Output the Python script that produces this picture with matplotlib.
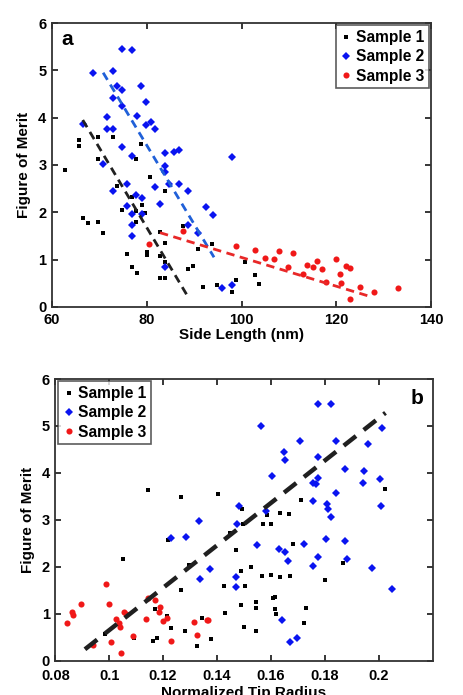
import numpy as np
import matplotlib
matplotlib.use('Agg')
import matplotlib.pyplot as plt

plt.rcParams['font.family'] = ['Liberation Sans', 'DejaVu Sans']
plt.rcParams['font.weight'] = 'bold'

# ---- panel a: figure of merit vs side length (nm) ----
a_s1_x = [62.7, 65.8, 65.8, 69.8, 72.8, 78.7, 77.7, 69.8, 80.7, 73.8, 74.7, 66.6, 67.7, 69.8, 70.8,
          83.8, 76.8, 78.9, 77.7, 79.6, 77.7, 82.8, 87.7, 83.8, 75.8, 80.0, 80.0, 82.8, 83.8, 76.8,
          77.9, 82.8, 83.8, 88.8, 89.8, 90.9, 93.7, 91.8, 94.8, 97.9, 98.8, 100.7, 102.8, 103.7]
a_s1_y = [2.90, 3.53, 3.40, 3.59, 3.60, 3.45, 3.12, 3.12, 2.74, 2.56, 2.05, 1.88, 1.78, 1.80, 1.57,
          2.46, 2.33, 2.16, 2.03, 1.98, 1.80, 1.59, 1.71, 1.35, 1.12, 1.17, 1.10, 1.08, 0.96, 0.85,
          0.71, 0.62, 0.62, 0.80, 0.87, 1.23, 1.33, 0.43, 0.46, 0.31, 0.56, 0.94, 0.68, 0.48]

a_s2_x = [74.7, 76.8, 68.7, 72.8, 73.8, 74.8, 78.7, 72.8, 79.8, 74.8, 71.7, 77.9, 79.8, 80.8, 81.7,
          71.7, 72.8, 66.6, 74.7, 76.8, 70.7, 83.8, 85.8, 86.9, 97.9, 83.8, 83.8, 72.8, 75.8, 81.7,
          84.7, 86.9, 88.8, 75.8, 77.7, 78.9, 82.8, 76.8, 78.9, 76.8, 76.8, 92.6, 93.9, 88.8, 90.9,
          83.8, 95.8, 97.9]
a_s2_y = [5.45, 5.42, 4.94, 4.98, 4.66, 4.59, 4.66, 4.41, 4.33, 4.25, 4.02, 4.04, 3.85, 3.90, 3.76,
          3.76, 3.76, 3.87, 3.38, 3.20, 3.02, 3.26, 3.28, 3.31, 3.16, 2.97, 2.86, 2.46, 2.60, 2.53,
          2.60, 2.60, 2.44, 2.14, 2.37, 2.30, 2.18, 1.96, 1.96, 1.73, 1.50, 2.12, 1.94, 1.73, 1.56,
          0.85, 0.40, 0.47]

a_s3_x = [80.5, 87.7, 98.8, 102.8, 107.9, 110.9, 104.9, 106.8, 109.8, 112.9, 113.9, 115.0, 115.9,
          117.0, 117.8, 119.9, 120.8, 120.9, 122.0, 123.0, 122.9, 125.0, 127.9, 133.1]
a_s3_y = [1.33, 1.61, 1.28, 1.21, 1.19, 1.13, 1.03, 1.01, 0.84, 0.69, 0.89, 0.85, 0.97,
          0.80, 0.53, 1.01, 0.69, 0.50, 0.87, 0.83, 0.16, 0.42, 0.32, 0.40]

a_fit1 = ([66.5, 88.5], [3.95, 0.25])
a_fit2 = ([70.8, 94.2], [4.95, 1.05])
a_fit3 = ([82.8, 127.2], [1.57, 0.22])

# ---- panel b: figure of merit vs normalized tip radius ----
b_s1_x = [0.1144, 0.1268, 0.1404, 0.1493, 0.2022, 0.1713, 0.1587, 0.1635, 0.1667, 0.1570, 0.1601,
          0.1496, 0.1469, 0.1681, 0.1867, 0.1800, 0.1525, 0.1490, 0.1568, 0.1601, 0.1632, 0.1669,
          0.1503, 0.1425, 0.1607, 0.1614, 0.1488, 0.1546, 0.1543, 0.1616, 0.1620, 0.1731, 0.1431,
          0.1500, 0.1543, 0.1722, 0.1377, 0.1346, 0.1050, 0.1219, 0.1447, 0.1296, 0.1268, 0.1169,
          0.1213, 0.1229, 0.1283, 0.1327, 0.1161, 0.1179, 0.1092, 0.0984]
b_s1_y = [3.63, 3.48, 3.55, 3.22, 3.66, 3.43, 3.11, 3.15, 3.13, 2.91, 2.90,
          2.90, 2.36, 2.48, 2.08, 1.72, 2.00, 1.90, 1.81, 1.83, 1.79, 1.81,
          1.59, 1.58, 1.33, 1.36, 1.19, 1.24, 1.13, 1.09, 0.99, 1.13, 1.02,
          0.72, 0.62, 0.79, 0.45, 0.90, 2.17, 2.56, 2.72, 2.04, 1.51, 1.10,
          0.95, 0.69, 0.62, 0.32, 0.42, 0.49, 0.47, 0.57]

b_s2_x = [0.1481, 0.1332, 0.1474, 0.1774, 0.1824, 0.1564, 0.2011, 0.1706, 0.1842, 0.1959, 0.1648,
          0.1651, 0.1774, 0.1873, 0.1944, 0.1605, 0.1774, 0.1756, 0.1768, 0.1943, 0.2003, 0.1842,
          0.1756, 0.1809, 0.1811, 0.1824, 0.2009, 0.1580, 0.1548, 0.1630, 0.1654, 0.1663, 0.1722,
          0.1803, 0.1874, 0.1774, 0.1756, 0.1883, 0.1975, 0.2050, 0.1373, 0.1469, 0.1472, 0.1640,
          0.1669, 0.1698, 0.1231, 0.1284, 0.1336]
b_s2_y = [3.29, 2.98, 2.90, 5.47, 5.46, 5.00, 4.96, 4.68, 4.69, 4.62, 4.45,
          4.28, 4.34, 4.09, 4.05, 3.93, 3.89, 3.79, 3.77, 3.79, 3.88, 3.57,
          3.39, 3.34, 3.22, 3.06, 3.30, 3.18, 2.47, 2.38, 2.31, 2.13, 2.48,
          2.60, 2.55, 2.20, 2.02, 2.16, 1.97, 1.52, 1.96, 1.77, 1.56, 0.86,
          0.40, 0.49, 2.61, 2.63, 1.74]

b_s3_x = [0.0844, 0.0861, 0.0867, 0.0895, 0.0988, 0.0999, 0.1024, 0.1037, 0.1040, 0.1056, 0.1061,
          0.1043, 0.1005, 0.1089, 0.0941, 0.1136, 0.1144, 0.1169, 0.1188, 0.1184, 0.1198, 0.1215,
          0.1231, 0.1314, 0.1327, 0.1361, 0.1367]
b_s3_y = [0.81, 1.04, 0.97, 1.20, 1.63, 1.20, 0.89, 0.79, 0.71, 1.04, 0.99,
          0.17, 0.40, 0.52, 0.33, 0.88, 1.34, 1.29, 1.15, 1.04, 0.85, 0.90,
          0.42, 0.83, 0.54, 0.87, 0.87]

b_fit = ([0.091, 0.2025], [0.24, 5.28])

legend_labels = ['Sample 1', 'Sample 2', 'Sample 3']

BLUE = '#0a14f0'
RED = '#f01818'


def style_axes(ax, xpad=4):
    for sp in ax.spines.values():
        sp.set_linewidth(1.3)
        sp.set_color('#333333')
    ax.tick_params(direction='in', top=True, right=True, length=4, width=1.1,
                   labelsize=10.5)
    ax.tick_params(axis='x', pad=xpad)
    ax.tick_params(axis='y', pad=4)
    for lab in ax.get_xticklabels() + ax.get_yticklabels():
        lab.set_fontweight('bold')


def scatter_three(ax, s1, s2, s3):
    ax.plot(s1[0], s1[1], 's', color='black', ms=3.4, mew=0, ls='none', label=legend_labels[0])
    ax.plot(s2[0], s2[1], 'D', color=BLUE, ms=3.9, mew=0, ls='none', label=legend_labels[1])
    ax.plot(s3[0], s3[1], 'o', color=RED, ms=4.4, mew=0, ls='none', label=legend_labels[2])


def make_legend(ax, loc):
    leg = ax.legend(loc=loc, handletextpad=0.2, handlelength=0.8,
                    borderpad=0.3, labelspacing=0.28, fancybox=False, borderaxespad=0.15,
                    prop={'weight': 'bold', 'size': 11.2})
    leg.get_frame().set_edgecolor('#333333')
    leg.get_frame().set_linewidth(1.2)
    return leg


fig = plt.figure(figsize=(4.63, 6.95), dpi=100)

# panel a
ax1 = fig.add_axes([0.1123, 0.5583, 0.8186, 0.4086])
scatter_three(ax1, (a_s1_x, a_s1_y), (a_s2_x, a_s2_y), (a_s3_x, a_s3_y))
ax1.plot(*a_fit1, color='#202020', lw=2.0, dashes=(3, 2))
ax1.plot(*a_fit2, color='#2060d8', lw=2.0, dashes=(3, 2))
ax1.plot(*a_fit3, color='#e82828', lw=2.0, dashes=(3, 2))
ax1.set_xlim(60, 140)
ax1.set_ylim(0, 6)
ax1.set_xticks([60, 80, 100, 120, 140])
ax1.set_yticks([0, 1, 2, 3, 4, 5, 6])
ax1.set_xlabel('Side Length (nm)', fontsize=11, fontweight='bold', labelpad=1)
ax1.set_ylabel('Figure of Merit', fontsize=11, fontweight='bold', labelpad=5)
style_axes(ax1)
make_legend(ax1, 'upper right')
ax1.text(0.025, 0.975, 'a', transform=ax1.transAxes, fontsize=15, fontweight='bold',
         va='top', ha='left')

# panel b
ax2 = fig.add_axes([0.1194, 0.0496, 0.8151, 0.4050])
scatter_three(ax2, (b_s1_x, b_s1_y), (b_s2_x, b_s2_y), (b_s3_x, b_s3_y))
ax2.plot(*b_fit, color='#202020', lw=3.2, dashes=(3.5, 2.2))
ax2.set_xlim(0.08, 0.22)
ax2.set_ylim(0, 6)
ax2.set_xticks([0.08, 0.1, 0.12, 0.14, 0.16, 0.18, 0.2])
ax2.set_xticklabels(['0.08', '0.1', '0.12', '0.14', '0.16', '0.18', '0.2'])
ax2.set_yticks([0, 1, 2, 3, 4, 5, 6])
ax2.set_xlabel('Normalized Tip Radius', fontsize=11, fontweight='bold', labelpad=2)
ax2.set_ylabel('Figure of Merit', fontsize=11, fontweight='bold', labelpad=5)
style_axes(ax2, xpad=6)
make_legend(ax2, 'upper left')
ax2.text(0.975, 0.965, 'b', transform=ax2.transAxes, fontsize=15, fontweight='bold',
         va='top', ha='right')

fig.savefig('out.png', dpi=100)
